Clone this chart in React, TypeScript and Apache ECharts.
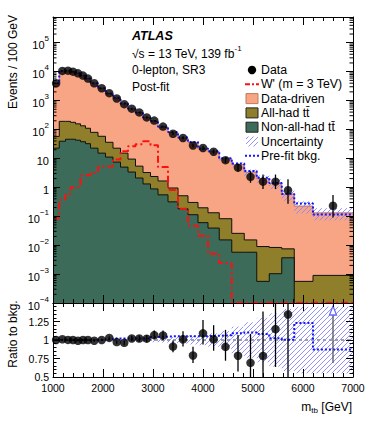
import React, { useEffect, useRef } from "react";
import * as echarts from "echarts";

// ---------------- data ----------------
const binEdges = [1000, 1125, 1250, 1350, 1450, 1550, 1650, 1750, 1900, 2050, 2200, 2350, 2500, 2650, 2800, 2950, 3100, 3300, 3500, 3700, 3900, 4100, 4325, 4575, 4825, 5075, 5325, 5575, 5825, 6200, 7000];

const dataValues = [3960, 10600, 10800, 10000, 8760, 7290, 5750, 3960, 2670, 1800, 1180, 750, 525, 390, 262, 203, 126, 71, 51, 28, 23, 17, 8.7, 4.8, 2.3, 1.57, 1.57, 0.79, null, 0.23];
const dataErrUp = [56, 92, 104, 100, 94, 85, 76, 51, 42, 35, 28, 22, 19, 16, 13, 11.6, 7.9, 6.5, 5.5, 4.2, 3.8, 3.2, 2.2, 1.7, 1.3, 1.2, 1.2, 1.1, null, 0.31];
const dataErrDown = [56, 92, 104, 100, 94, 85, 76, 51, 42, 35, 28, 22, 19, 16, 13, 11.6, 7.9, 5.9, 4.9, 3.6, 3.2, 2.6, 1.8, 1.3, 0.86, 0.7, 0.7, 0.52, null, 0.14];

const dataDriven = [3900, 10300, 10600, 9820, 8690, 7160, 5640, 3920, 2610, 1714, 1192, 765, 505, 377, 254, 188, 117, 77, 50, 35.1, 20.9, 16.7, 9.5, 6.07, 3.31, 1.99, 1.36, 0.58, 0.224, 0.13];
const allHadTT = [35, 152, 145, 131, 114, 96, 78, 57, 43, 25, 15.1, 10.2, 6.1, 3.3, 1.94, 1.49, 1.11, 0.635, 0.33, 0.187, 0.136, 0.093, 0.067, 0.0199, 0.0095, 0.0084, 0.0073, 0.0038, 0.00056, 0.0009];
const nonAllHadTT = [22.6, 39.3, 46, 46, 42.6, 37.8, 32.3, 22.6, 15.2, 11.1, 7.46, 5.0, 3.38, 2.1, 1.31, 0.88, 0.55, 0.315, 0.181, 0.113, 0.06, 0.039, 0.0152, 0.0057, 0.0057, 0.00056, 0.00103, 0.00366, 0, 0];
const wPrime = [0.085, 0.369, 0.593, 0.99, 1.03, 2.56, 2.67, 3.2, 5.2, 5.4, 9.2, 17.8, 26.5, 31, 39, 28.6, 5.0, 0.81, 0.18, 0.047, 0.021, 0.005, 0.0024, 0, 0, 0, 0, 0, 0, 0];
const preFitBkg = [3960, 10500, 10800, 10000, 8850, 7290, 5750, 4000, 2670, 1770, 1240, 796, 525, 390, 262, 198, 124, 82, 53, 37.2, 22.2, 17.8, 10.2, 6.65, 3.66, 2.16, 1.4, 0.59, 0.276, 0.114];
const relUncertainty = [0.02, 0.01, 0.01, 0.01, 0.01, 0.01, 0.01, 0.01, 0.01, 0.012, 0.014, 0.016, 0.018, 0.02, 0.025, 0.03, 0.035, 0.04, 0.05, 0.06, 0.07, 0.09, 0.12, 0.18, 0.24, 0.3, 0.36, 0.42, 0.45, 0.45];

const xTickLabels = ["1000", "2000", "3000", "4000", "5000", "6000", "7000"];

// ---------------- styling ----------------
const FONT = '"Liberation Sans", Arial, Helvetica, sans-serif';
const SALMON = "#f7a584";
const OLIVE = "#8f7e2a";
const GREEN = "#3c6b59";
const HATCH = "#8585ff";
const BLUE = "#1515ff";
const RED = "#ff1010";

const X_MIN = 1000, X_MAX = 7000;
const LOG_MIN = -4, LOG_MAX = 5.89;
const R_MIN = 0.5, R_MAX = 1.5;

function hatchLines(x0: number, y0: number, x1: number, y1: number, step: number, style: any) {
  const out: any[] = [];
  const cStart = Math.ceil((x0 + y0) / step) * step;
  for (let c = cStart; c <= x1 + y1; c += step) {
    const xa = Math.max(x0, c - y1);
    const xb = Math.min(x1, c - y0);
    if (xb > xa) out.push({ type: "line", shape: { x1: xa, y1: c - xa, x2: xb, y2: c - xb }, style });
  }
  return out;
}

function buildOption() {
  const nBins = binEdges.length - 1;
  const centers = binEdges.slice(0, -1).map((e, i) => (e + binEdges[i + 1]) / 2);
  const ttTop = allHadTT.map((v, i) => v + nonAllHadTT[i]);
  const total = dataDriven.map((v, i) => v + ttTop[i]);
  const lg = (v: number, floor: number) => (v > 0 ? Math.log10(v) : floor);
  const stepData = (vals: number[], floor: number) => {
    const pts = vals.map((v, i) => [binEdges[i], lg(v, floor)]);
    pts.push([binEdges[nBins], lg(vals[nBins - 1], floor)]);
    return pts;
  };

  const dataPts: any[] = [];
  const dataErr: any[] = [];
  const ratioPts: any[] = [];
  const ratioErr: any[] = [];
  const ratioArrows: any[] = [];
  dataValues.forEach((v, i) => {
    if (v == null) return;
    dataPts.push([centers[i], Math.log10(v)]);
    const up = v + (dataErrUp[i] as number);
    const dn = Math.max(v - (dataErrDown[i] as number), 1e-9);
    dataErr.push([centers[i], Math.log10(dn), Math.log10(up)]);
    const r = v / total[i];
    const rUp = up / total[i];
    const rDn = dn / total[i];
    if (r > R_MAX) ratioArrows.push([centers[i], rDn]);
    else {
      ratioPts.push([centers[i], r]);
      ratioErr.push([centers[i], rDn, rUp]);
    }
  });

  const bandMain = total.map((t, i) => [binEdges[i], binEdges[i + 1], Math.log10(t * (1 - relUncertainty[i])), Math.log10(t * (1 + relUncertainty[i]))]);
  const bandRatio = total.map((t, i) => [binEdges[i], binEdges[i + 1], 1 - relUncertainty[i], 1 + relUncertainty[i]]);
  const preFitRatio = preFitBkg.map((p, i) => p / total[i]);

  const minorLogTicks: number[][] = [];
  for (let n = -4; n <= 5; n++) for (let k = 2; k <= 9; k++) {
    const l = n + Math.log10(k);
    if (l < LOG_MAX) minorLogTicks.push([X_MIN, l]);
  }

  const hatchStyle = { stroke: HATCH, lineWidth: 0.9 };
  const bandRender = (params: any, api: any) => {
    const cs = params.coordSys;
    const p0 = api.coord([api.value(0), api.value(3)]);
    const p1 = api.coord([api.value(1), api.value(2)]);
    const x0 = Math.max(p0[0], cs.x), x1 = Math.min(p1[0], cs.x + cs.width);
    const y0 = Math.max(p0[1], cs.y), y1 = Math.min(p1[1], cs.y + cs.height);
    if (x1 <= x0 || y1 <= y0) return { type: "group", children: [] };
    return { type: "group", children: hatchLines(x0, y0, x1, y1, 5, hatchStyle) };
  };
  const errRender = (params: any, api: any) => {
    const cs = params.coordSys;
    const a = api.coord([api.value(0), api.value(1)]);
    const b = api.coord([api.value(0), api.value(2)]);
    const yb = Math.min(a[1], cs.y + cs.height);
    const yt = Math.max(b[1], cs.y);
    if (yb <= yt) return { type: "group", children: [] };
    return { type: "line", shape: { x1: a[0], y1: yb, x2: a[0], y2: yt }, style: { stroke: "#000", lineWidth: 1.3 } };
  };

  const axisLineStyle = { color: "#000", width: 1 };
  const xAxisBase = (grid: number, pos: string, labels: boolean) => ({
    type: "value", gridIndex: grid, position: pos, min: X_MIN, max: X_MAX, interval: 1000, z: 10,
    axisLine: { show: true, onZero: false, lineStyle: axisLineStyle },
    axisTick: { show: true, inside: true, length: 8, lineStyle: axisLineStyle },
    minorTick: { show: true, splitNumber: 5, length: 4, lineStyle: axisLineStyle },
    splitLine: { show: false },
    axisLabel: labels ? {
      show: true, margin: 5, fontSize: 10.5, color: "#000", fontFamily: FONT,
      formatter: (v: number) => xTickLabels[Math.round((v - X_MIN) / 1000)] ?? "",
    } : { show: false },
  });

  const logLabel = (v: number) => {
    const r = Math.round(v);
    if (Math.abs(v - r) > 1e-6) return "";
    if (r === 0) return "{b|1}";
    if (r === 1) return "{b|10}";
    return `{b|10}{s|${r < 0 ? "\u2212" + -r : r}}`;
  };

  return {
    animation: false,
    backgroundColor: "#fff",
    grid: [
      { left: 53, top: 17, width: 300, height: 286 },
      { left: 53, top: 303, width: 300, height: 74 },
    ],
    xAxis: [
      xAxisBase(0, "bottom", false),
      xAxisBase(0, "top", false),
      xAxisBase(1, "bottom", true),
      xAxisBase(1, "top", false),
    ],
    yAxis: [
      {
        type: "value", gridIndex: 0, position: "left", min: LOG_MIN, max: LOG_MAX, interval: 1, z: 10,
        axisLine: { show: true, onZero: false, lineStyle: axisLineStyle },
        axisTick: { show: true, inside: true, length: 7, lineStyle: axisLineStyle },
        splitLine: { show: false },
        axisLabel: {
          show: true, margin: 4, showMaxLabel: false, formatter: logLabel, color: "#000",
          rich: {
            b: { fontSize: 11, fontFamily: FONT, color: "#000", lineHeight: 16, verticalAlign: "bottom" },
            s: { fontSize: 8, fontFamily: FONT, color: "#000", lineHeight: 10, verticalAlign: "top" },
          },
        },
      },
      {
        type: "value", gridIndex: 0, position: "right", min: LOG_MIN, max: LOG_MAX, interval: 1, z: 10,
        axisLine: { show: true, onZero: false, lineStyle: axisLineStyle },
        axisTick: { show: true, inside: true, length: 7, lineStyle: axisLineStyle },
        splitLine: { show: false }, axisLabel: { show: false },
      },
      {
        type: "value", gridIndex: 1, position: "left", min: R_MIN, max: R_MAX, interval: 0.25, z: 10,
        axisLine: { show: true, onZero: false, lineStyle: axisLineStyle },
        axisTick: { show: true, inside: true, length: 7, lineStyle: axisLineStyle },
        minorTick: { show: true, splitNumber: 5, length: 3.5, lineStyle: axisLineStyle },
        splitLine: { show: false },
        axisLabel: { show: true, margin: 4, showMaxLabel: false, fontSize: 10.5, color: "#000", fontFamily: FONT },
      },
      {
        type: "value", gridIndex: 1, position: "right", min: R_MIN, max: R_MAX, interval: 0.25, z: 10,
        axisLine: { show: true, onZero: false, lineStyle: axisLineStyle },
        axisTick: { show: true, inside: true, length: 7, lineStyle: axisLineStyle },
        minorTick: { show: true, splitNumber: 5, length: 3.5, lineStyle: axisLineStyle },
        splitLine: { show: false }, axisLabel: { show: false },
      },
    ],
    series: [
      {
        type: "line", xAxisIndex: 0, yAxisIndex: 0, step: "end", symbol: "none", z: 1,
        data: stepData(total, -6),
        lineStyle: { color: "#c27a5c", width: 1 },
        areaStyle: { color: SALMON, opacity: 1, origin: "start" },
      },
      {
        type: "line", xAxisIndex: 0, yAxisIndex: 0, step: "end", symbol: "none", z: 2,
        data: stepData(ttTop, -6),
        lineStyle: { color: "#111", width: 1 },
        areaStyle: { color: OLIVE, opacity: 1, origin: "start" },
      },
      {
        type: "line", xAxisIndex: 0, yAxisIndex: 0, step: "end", symbol: "none", z: 3,
        data: stepData(nonAllHadTT, -6),
        lineStyle: { color: "#111", width: 1 },
        areaStyle: { color: GREEN, opacity: 1, origin: "start" },
      },
      {
        type: "custom", xAxisIndex: 0, yAxisIndex: 0, z: 11, silent: true,
        data: minorLogTicks,
        renderItem: (params: any, api: any) => {
          const l = api.coord([X_MIN, api.value(1)]);
          const r = api.coord([X_MAX, api.value(1)]);
          const st = { stroke: "#000", lineWidth: 1 };
          return {
            type: "group",
            children: [
              { type: "line", shape: { x1: l[0], y1: l[1], x2: l[0] + 3.5, y2: l[1] }, style: st },
              { type: "line", shape: { x1: r[0], y1: r[1], x2: r[0] - 3.5, y2: r[1] }, style: st },
            ],
          };
        },
      },
      {
        type: "line", xAxisIndex: 0, yAxisIndex: 0, step: "end", symbol: "none", z: 4,
        data: stepData(wPrime, LOG_MIN + 0.01),
        lineStyle: { color: RED, width: 2, type: [7, 3, 2, 3] },
      },
      { type: "custom", xAxisIndex: 0, yAxisIndex: 0, z: 5, silent: true, data: bandMain, renderItem: bandRender },
      {
        type: "line", xAxisIndex: 0, yAxisIndex: 0, step: "end", symbol: "none", z: 6,
        data: stepData(preFitBkg, -6),
        lineStyle: { color: BLUE, width: 2, type: [2, 2] },
      },
      { type: "custom", xAxisIndex: 0, yAxisIndex: 0, z: 7, silent: true, data: dataErr, renderItem: errRender },
      {
        type: "scatter", xAxisIndex: 0, yAxisIndex: 0, z: 8, data: dataPts,
        symbol: "circle", symbolSize: 8.5, itemStyle: { color: "#000" },
      },

      // ---------- ratio panel ----------
      { type: "custom", xAxisIndex: 2, yAxisIndex: 2, z: 3, silent: true, data: bandRatio, renderItem: bandRender },
      {
        type: "line", xAxisIndex: 2, yAxisIndex: 2, symbol: "none", z: 2,
        data: [[X_MIN, 1], [X_MAX, 1]],
        lineStyle: { color: "#444", width: 1, type: [3, 3] },
      },
      {
        type: "line", xAxisIndex: 2, yAxisIndex: 2, step: "end", symbol: "none", z: 4,
        data: stepData(preFitRatio, -6).map((p) => [p[0], Math.pow(10, p[1])]),
        lineStyle: { color: BLUE, width: 2, type: [2, 2] },
      },
      { type: "custom", xAxisIndex: 2, yAxisIndex: 2, z: 6, silent: true, data: ratioErr, renderItem: errRender },
      {
        type: "scatter", xAxisIndex: 2, yAxisIndex: 2, z: 7, data: ratioPts,
        symbol: "circle", symbolSize: 8.5, itemStyle: { color: "#000" },
      },
      {
        type: "custom", xAxisIndex: 2, yAxisIndex: 2, z: 7, silent: true, data: ratioArrows,
        renderItem: (params: any, api: any) => {
          const cs = params.coordSys;
          const p = api.coord([api.value(0), api.value(1)]);
          const top = cs.y + 2;
          return {
            type: "group",
            children: [
              { type: "line", shape: { x1: p[0], y1: p[1], x2: p[0], y2: top + 8 }, style: { stroke: "#555", lineWidth: 1.3 } },
              {
                type: "polygon",
                shape: { points: [[p[0] - 3.5, top + 10], [p[0] + 3.5, top + 10], [p[0], top + 1]] },
                style: { fill: "#fff", stroke: "#6a6aff", lineWidth: 1.3 },
              },
            ],
          };
        },
      },
    ],
    graphic: [
      { type: "text", x: 132, y: 36, style: { text: "ATLAS", font: `italic bold 12.5px ${FONT}`, fill: "#000", textVerticalAlign: "middle" } },
      {
        type: "text", x: 132, y: 52,
        style: {
          text: "{a|\u221As = 13 TeV, 139 fb}{s|-1}", fill: "#000", textVerticalAlign: "middle",
          rich: {
            a: { fontSize: 12, fontFamily: FONT, lineHeight: 16, verticalAlign: "bottom" },
            s: { fontSize: 8, fontFamily: FONT, lineHeight: 10, verticalAlign: "top" },
          },
        },
      },
      { type: "text", x: 132, y: 70, style: { text: "0-lepton, SR3", font: `12px ${FONT}`, fill: "#000", textVerticalAlign: "middle" } },
      { type: "text", x: 132, y: 87, style: { text: "Post-fit", font: `12px ${FONT}`, fill: "#000", textVerticalAlign: "middle" } },

      { type: "circle", shape: { cx: 252, cy: 70, r: 4.2 }, style: { fill: "#000" } },
      { type: "line", shape: { x1: 245, y1: 84.3, x2: 259, y2: 84.3 }, style: { stroke: RED, lineWidth: 2, lineDash: [5, 2, 2, 2] } },
      { type: "rect", shape: { x: 246, y: 93.6, width: 12, height: 10 }, style: { fill: SALMON, stroke: "#c27a5c", lineWidth: 1 } },
      { type: "rect", shape: { x: 246, y: 107.9, width: 12, height: 10 }, style: { fill: OLIVE, stroke: "#222", lineWidth: 1 } },
      { type: "rect", shape: { x: 246, y: 122.2, width: 12, height: 10 }, style: { fill: GREEN, stroke: "#222", lineWidth: 1 } },
      { type: "group", children: hatchLines(246, 136.5, 258, 146.5, 5, hatchStyle) },
      { type: "line", shape: { x1: 245, y1: 155.8, x2: 259, y2: 155.8 }, style: { stroke: BLUE, lineWidth: 2, lineDash: [2, 2] } },
      ...["Data", "W' (m = 3 TeV)", "Data-driven", "All-had tt\u0304", "Non-all-had tt\u0304", "Uncertainty", "Pre-fit bkg."].map((t, i) => ({
        type: "text", x: 261, y: 70 + i * 14.3,
        style: { text: t, font: `12.3px ${FONT}`, fill: "#000", textVerticalAlign: "middle" },
      })),

      {
        type: "text", x: 13, y: 62, rotation: Math.PI / 2,
        style: { text: "Events / 100 GeV", font: `12px ${FONT}`, fill: "#000", textAlign: "center", textVerticalAlign: "middle" },
      },
      {
        type: "text", x: 13, y: 334, rotation: Math.PI / 2,
        style: { text: "Ratio to bkg.", font: `12px ${FONT}`, fill: "#000", textAlign: "center", textVerticalAlign: "middle" },
      },
      {
        type: "text", x: 352, y: 407,
        style: {
          text: "{m|m}{s|tb}{m| [GeV]}", fill: "#000", textAlign: "right", textVerticalAlign: "middle",
          rich: {
            m: { fontSize: 12, fontFamily: FONT, lineHeight: 14, verticalAlign: "middle" },
            s: { fontSize: 8, fontFamily: FONT, lineHeight: 8, verticalAlign: "bottom" },
          },
        },
      },
    ],
  };
}

export default function App() {
  const ref = useRef<HTMLDivElement>(null);
  useEffect(() => {
    const chart = echarts.init(ref.current as HTMLDivElement, null, { renderer: "svg" });
    chart.setOption(buildOption() as any);
    return () => chart.dispose();
  }, []);
  return <div ref={ref} style={{ position: "absolute", left: 0, top: 0, width: 374, height: 421 }} />;
}
